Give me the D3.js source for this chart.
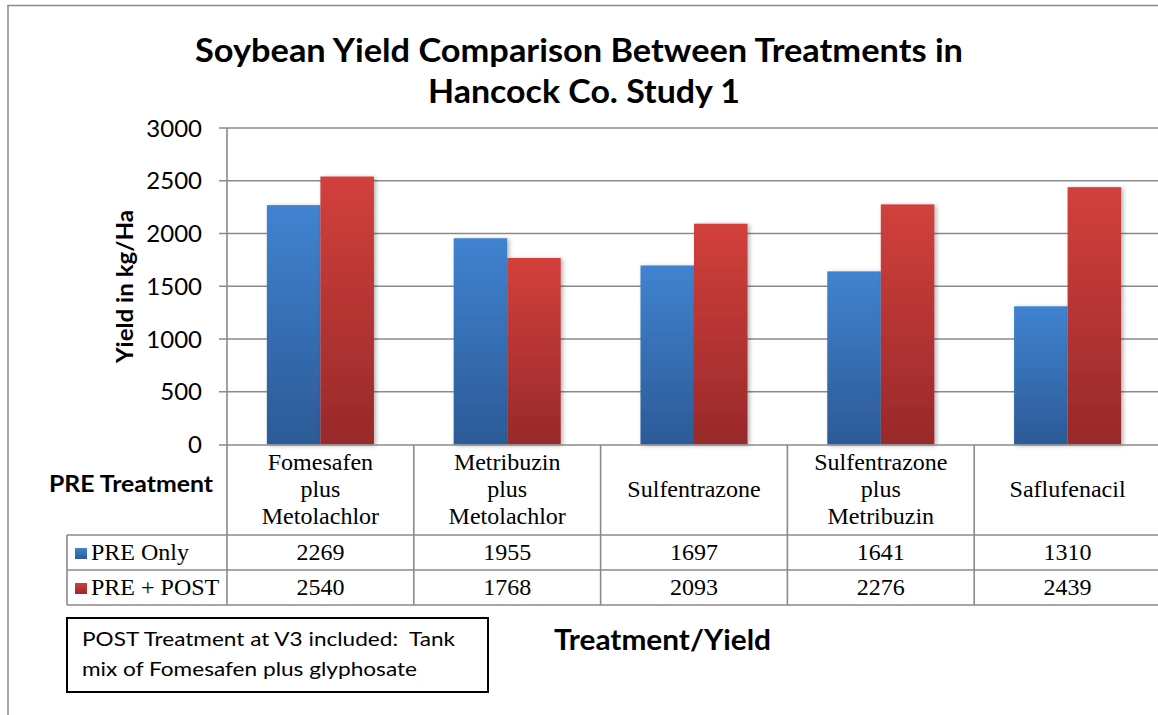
<!DOCTYPE html>
<html>
<head>
<meta charset="utf-8">
<script src="https://cdn.jsdelivr.net/npm/d3@7"></script>
<style>
  body { margin: 0; background: #fff; }
  svg { display: block; }
</style>
</head>
<body>
<div id="chart"></div>
<script>
// data
var treatments = ["Fomesafen plus Metolachlor", "Metribuzin plus Metolachlor", "Sulfentrazone",
                  "Sulfentrazone plus Metribuzin", "Saflufenacil"];
var seriesNames = ["PRE Only", "PRE + POST"];
var preOnly = [2269, 1955, 1697, 1641, 1310];
var prePost = [2540, 1768, 2093, 2276, 2439];
var yTicks = [0, 500, 1000, 1500, 2000, 2500, 3000];

var W = 1158, H = 715;
var grid = "#8a8a8a";
var sans = "Lato, 'Open Sans', sans-serif";
var serif = "'Liberation Serif', 'Times New Roman', serif";

var svg = d3.select("#chart").append("svg")
    .attr("width", W)
    .attr("height", H);

var defs = svg.append("defs");
var colors = [["#4083d0", "#2c5a97"], ["#d2403c", "#98292a"]];
colors.forEach(function(c, i) {
    var g = defs.append("linearGradient")
        .attr("id", "grad" + i)
        .attr("x1", 0).attr("y1", 0).attr("x2", 0).attr("y2", 1);
    g.append("stop").attr("offset", "0%").attr("stop-color", c[0]);
    g.append("stop").attr("offset", "100%").attr("stop-color", c[1]);
});
var shadow = defs.append("filter").attr("id", "shadow")
    .attr("x", "-20%").attr("y", "-5%").attr("width", "150%").attr("height", "115%");
shadow.append("feDropShadow")
    .attr("dx", 2).attr("dy", 1).attr("stdDeviation", 2)
    .attr("flood-color", "#000").attr("flood-opacity", 0.3);

// chart frame
svg.append("path")
    .attr("d", "M8,715 L8,5.5 L1158,5.5")
    .attr("fill", "none")
    .attr("stroke", grid)
    .attr("stroke-width", 1.5);

// scales
var x0 = d3.scaleBand().domain(treatments).range([227, 1161]);
var x1 = d3.scaleBand().domain(seriesNames).range([0, x0.bandwidth()]).paddingOuter(0.745);
var y = d3.scaleLinear().domain([0, 3000]).range([444.5, 128]);

// gridlines + tick marks
svg.append("g").selectAll("line")
    .data(yTicks.filter(function(t){ return t > 0; }))
    .enter().append("line")
    .attr("x1", 219).attr("x2", 1161)
    .attr("y1", function(d){ return y(d); })
    .attr("y2", function(d){ return y(d); })
    .attr("stroke", grid)
    .attr("stroke-width", 1.5);

svg.append("g").selectAll("text")
    .data(yTicks)
    .enter().append("text")
    .attr("x", 202)
    .attr("y", function(d){ return y(d); })
    .attr("dy", "0.36em")
    .attr("text-anchor", "end")
    .style("font-family", sans)
    .style("font-size", "24px")
    .text(function(d){ return d; });

// bars
var groups = svg.append("g").selectAll("g")
    .data(treatments)
    .enter().append("g")
    .attr("transform", function(d){ return "translate(" + x0(d) + ",0)"; });

groups.selectAll("rect")
    .data(function(d, i){
        return [{s: seriesNames[0], k: 0, v: preOnly[i]}, {s: seriesNames[1], k: 1, v: prePost[i]}];
    })
    .enter().append("rect")
    .attr("x", function(d){ return x1(d.s); })
    .attr("y", function(d){ return y(d.v); })
    .attr("width", x1.bandwidth())
    .attr("height", function(d){ return y(0) - y(d.v); })
    .attr("fill", function(d){ return "url(#grad" + d.k + ")"; })
    .attr("filter", "url(#shadow)");

// data table
var rowTop = 445, headBottom = 535, row1Bottom = 570, row2Bottom = 605;
var tbl = svg.append("g")
    .attr("stroke", grid)
    .attr("stroke-width", 1.6);
tbl.append("line").attr("x1", 219).attr("x2", 1161).attr("y1", rowTop).attr("y2", rowTop);
tbl.append("line").attr("x1", 227).attr("x2", 227).attr("y1", 128).attr("y2", row2Bottom);
[headBottom, row1Bottom, row2Bottom].forEach(function(yy){
    tbl.append("line").attr("x1", 67).attr("x2", 1161).attr("y1", yy).attr("y2", yy);
});
tbl.append("line").attr("x1", 67).attr("x2", 67).attr("y1", headBottom).attr("y2", row2Bottom);
tbl.selectAll(".vline")
    .data(treatments)
    .enter().append("line")
    .attr("x1", function(d){ return x0(d) + x0.bandwidth(); })
    .attr("x2", function(d){ return x0(d) + x0.bandwidth(); })
    .attr("y1", rowTop).attr("y2", row2Bottom);

// category labels (split on "plus")
function labelLines(name) {
    var parts = name.split(" plus ");
    if (parts.length == 1) return parts;
    return [parts[0], "plus", parts[1]];
}
var cats = svg.append("g").selectAll("text")
    .data(treatments)
    .enter().append("text")
    .attr("text-anchor", "middle")
    .style("font-family", serif)
    .style("font-size", "24px");
cats.each(function(d){
    var lines = labelLines(d);
    var start = lines.length == 1 ? 497 : 470;
    var cx = x0(d) + x0.bandwidth() / 2;
    d3.select(this).selectAll("tspan")
        .data(lines)
        .enter().append("tspan")
        .attr("x", cx)
        .attr("y", function(l, j){ return start + j * 27; })
        .text(function(l){ return l; });
});

// value rows
[preOnly, prePost].forEach(function(vals, k){
    var by = k == 0 ? 560 : 595;
    svg.append("g").selectAll("text")
        .data(vals)
        .enter().append("text")
        .attr("x", function(v, i){ return x0(treatments[i]) + x0.bandwidth() / 2; })
        .attr("y", by)
        .attr("text-anchor", "middle")
        .style("font-family", serif)
        .style("font-size", "24px")
        .text(function(v){ return v; });

    svg.append("rect")
        .attr("x", 75).attr("y", by - 12)
        .attr("width", 12).attr("height", 11)
        .attr("fill", "url(#grad" + k + ")");
    svg.append("text")
        .attr("x", 91).attr("y", by)
        .style("font-family", serif)
        .style("font-size", "24px")
        .text(seriesNames[k]);
});

// titles
function boldText(x, yy, txt, size, len) {
    return svg.append("text")
        .attr("x", x).attr("y", yy)
        .attr("textLength", len)
        .attr("lengthAdjust", "spacingAndGlyphs")
        .style("font-family", sans)
        .style("font-weight", "bold")
        .style("font-size", size + "px")
        .text(txt);
}
boldText(195, 62, "Soybean Yield Comparison Between Treatments in", 33, 768);
boldText(428, 103, "Hancock Co. Study 1", 33, 312);
boldText(49, 492, "PRE Treatment", 23, 164);
boldText(554, 650, "Treatment/Yield", 28, 217);

svg.append("text")
    .attr("transform", "translate(133,363) rotate(-90)")
    .attr("textLength", 153)
    .attr("lengthAdjust", "spacingAndGlyphs")
    .style("font-family", sans)
    .style("font-weight", "bold")
    .style("font-size", "23px")
    .text("Yield in kg/Ha");

// note box
svg.append("rect")
    .attr("x", 67).attr("y", 618)
    .attr("width", 421).attr("height", 74)
    .attr("fill", "#fff")
    .attr("stroke", "#000")
    .attr("stroke-width", 2);
var noteLines = [["POST Treatment at V3 included:  Tank", 373], ["mix of Fomesafen plus glyphosate", 335]];
noteLines.forEach(function(n, i){
    svg.append("text")
        .attr("x", 82).attr("y", 646 + i * 30)
        .attr("textLength", n[1])
        .attr("lengthAdjust", "spacingAndGlyphs")
        .style("font-family", sans)
        .style("font-size", "20px")
        .style("white-space", "pre")
        .text(n[0]);
});
</script>
</body>
</html>
